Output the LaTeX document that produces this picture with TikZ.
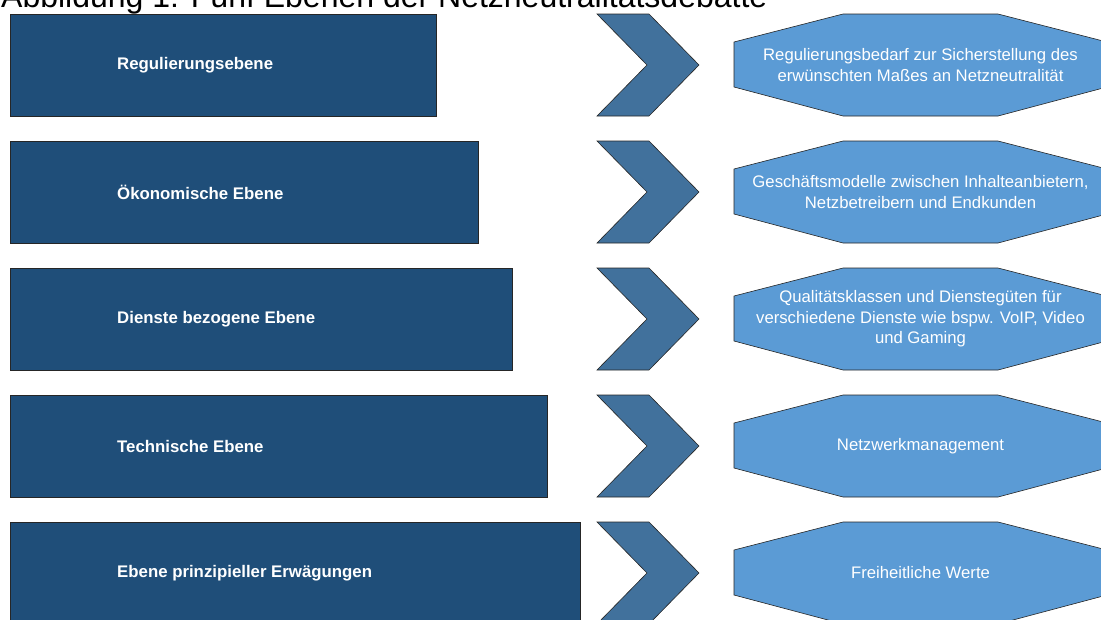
\documentclass[tikz,border=0pt]{standalone}
\usepackage{fontspec}
\setmainfont{Liberation Sans}
\usepackage{tikz}
\usetikzlibrary{positioning,calc}

\definecolor{ebeneblau}{HTML}{1F4E79}
\definecolor{pfeilblau}{HTML}{41719C}
\definecolor{inhaltblau}{HTML}{5B9BD5}

\tikzset{
    ebenebox/.style={fill=ebeneblau, draw=black!85, line width=0.6pt},
    ebenetext/.style={text=white, font=\fontsize{16.8}{20}\selectfont\bfseries, anchor=west, inner sep=0pt},
    pfeil/.style={fill=pfeilblau, draw=black!85, line width=0.6pt},
    okt/.style={fill=inhaltblau, draw=black!85, line width=0.6pt},
    okttext/.style={text=white, font=\fontsize{16.7}{20.5}\selectfont, align=center, inner sep=0pt},
    titel/.style={font=\fontsize{32}{38}\selectfont, anchor=base west, inner sep=0pt}
}

\begin{document}
\begin{tikzpicture}[x=1pt,y=-1pt]
    \useasboundingbox (0,0) rectangle (1101,619);
    \clip (0,0) rectangle (1101,619);

    % title, cut off at the top
    \node[titel] (titel) at (1,7) {Abbildung 1: Fünf Ebenen der Netzneutralitätsdebatte};

    % Regulierungsebene
    \draw[ebenebox] (10,14) rectangle (436,116);
    \node[ebenetext] (e1) at (117,65) {Regulierungsebene};
    \draw[pfeil] (597,14) -- ++(52,0) -- ++(50,51) -- ++(-50,51) -- ++(-52,0) -- ++(50,-51) -- cycle;
    \draw[okt] (843,14) -- (998,14) -- (1107,42) -- (1107,87) -- (998,116) -- (843,116) -- (734,87) -- (734,42) -- cycle;
    \node[okttext] (o1) at (920.5,65) {Regulierungsbedarf zur Sicherstellung des\\erwünschten Maßes an Netzneutralität};

    % Oekonomische Ebene
    \draw[ebenebox] (10,141) rectangle (478,243);
    \node[ebenetext] (e2) at (117,192) {Ökonomische Ebene};
    \draw[pfeil] (597,141) -- ++(52,0) -- ++(50,51) -- ++(-50,51) -- ++(-52,0) -- ++(50,-51) -- cycle;
    \draw[okt] (843,141) -- (998,141) -- (1107,169) -- (1107,214) -- (998,243) -- (843,243) -- (734,214) -- (734,169) -- cycle;
    \node[okttext] (o2) at (920.5,192) {Geschäftsmodelle zwischen Inhalteanbietern,\\Netzbetreibern und Endkunden};

    % Dienste bezogene Ebene
    \draw[ebenebox] (10,268) rectangle (512,370);
    \node[ebenetext] (e3) at (117,319) {Dienste bezogene Ebene};
    \draw[pfeil] (597,268) -- ++(52,0) -- ++(50,51) -- ++(-50,51) -- ++(-52,0) -- ++(50,-51) -- cycle;
    \draw[okt] (843,268) -- (998,268) -- (1107,296) -- (1107,341) -- (998,370) -- (843,370) -- (734,341) -- (734,296) -- cycle;
    \node[okttext] (o3) at (920.5,319) {Qualitätsklassen und Dienstegüten für\\verschiedene Dienste wie bspw. VoIP, Video\\und Gaming};

    % Technische Ebene
    \draw[ebenebox] (10,395) rectangle (547,497);
    \node[ebenetext] (e4) at (117,446) {Technische Ebene};
    \draw[pfeil] (597,395) -- ++(52,0) -- ++(50,51) -- ++(-50,51) -- ++(-52,0) -- ++(50,-51) -- cycle;
    \draw[okt] (843,395) -- (998,395) -- (1107,423) -- (1107,468) -- (998,497) -- (843,497) -- (734,468) -- (734,423) -- cycle;
    \node[okttext] (o4) at (920.5,446) {Netzwerkmanagement};

    % Ebene prinzipieller Erwaegungen
    \draw[ebenebox] (10,522) rectangle (580,624);
    \node[ebenetext] (e5) at (117,573) {Ebene prinzipieller Erwägungen};
    \draw[pfeil] (597,522) -- ++(52,0) -- ++(50,51) -- ++(-50,51) -- ++(-52,0) -- ++(50,-51) -- cycle;
    \draw[okt] (843,522) -- (998,522) -- (1107,550) -- (1107,595) -- (998,624) -- (843,624) -- (734,595) -- (734,550) -- cycle;
    \node[okttext] (o5) at (920.5,573) {Freiheitliche Werte};
\end{tikzpicture}
\end{document}
